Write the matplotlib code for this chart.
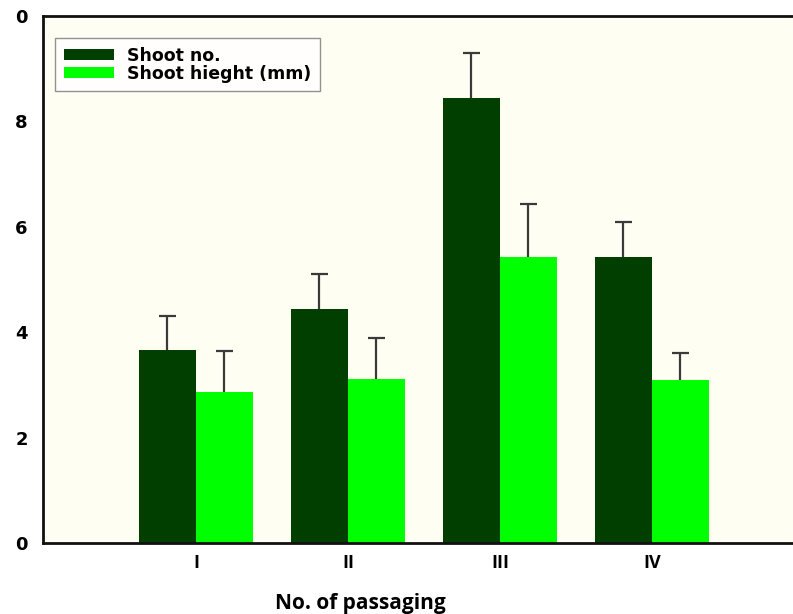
import matplotlib
matplotlib.use('Agg')
import matplotlib.pyplot as plt
import numpy as np

# data
passages = ['I', 'II', 'III', 'IV']
shoot_no = [3.66, 4.44, 8.44, 5.43]
shoot_no_err = [0.64, 0.66, 0.86, 0.67]
shoot_height = [2.86, 3.12, 5.43, 3.09]
shoot_height_err = [0.78, 0.77, 1.01, 0.51]
ytick_vals = [0, 2, 4, 6, 8, 10]
ytick_labels = ['0', '2', '4', '6', '8', '0']

W, H = 793, 614
step = 152  # px between groups
fig = plt.figure(figsize=(W / 100, H / 100), dpi=100)
# axes runs off the right edge, as in the original
ax = fig.add_axes([43 / W, 1 - 543 / H, 1.05, (543 - 16) / H])
ax.set_facecolor('#fffef2')

x = np.arange(len(passages))
w = 0.375
cap = 0.056


def bars_with_err(pos, vals, errs, color, label):
    ax.bar(pos, vals, w, color=color, label=label, zorder=2)
    tops = np.array(vals) + np.array(errs)
    ax.vlines(pos, vals, tops, color='#3a3a3a', lw=1.6, zorder=3)
    ax.hlines(tops, pos - cap, pos + cap, color='#3a3a3a', lw=1.6, zorder=3)


bars_with_err(x - w / 2, shoot_no, shoot_no_err, '#003f00', 'Shoot no.')
bars_with_err(x + w / 2, shoot_height, shoot_height_err, '#00ff00', 'Shoot hieght (mm)')

ax.set_ylim(0, 10)
x0 = -(196 - 43) / step
ax.set_xlim(x0, x0 + 1.05 * W / step)
ax.set_yticks(ytick_vals)
ax.set_yticklabels(ytick_labels, fontsize=13, fontweight='bold', family='DejaVu Sans')
ax.set_xticks(x)
ax.set_xticklabels(passages, fontsize=13, fontweight='bold', family='Open Sans')
ax.tick_params(axis='y', length=0, pad=11)
ax.tick_params(axis='x', length=0, pad=8)
for s in ax.spines.values():
    s.set_linewidth(2)
    s.set_color('#111111')

fig.text(360 / W, 1 - 603 / H, 'No. of passaging', ha='center', va='center',
         fontsize=15, fontweight='bold', family='Open Sans')

leg = ax.legend(loc='upper left', bbox_to_anchor=(12 / (1.05 * W), 1 - 22 / 527),
                prop={'family': 'DejaVu Sans', 'weight': 'bold', 'size': 12.5},
                handlelength=2.9, handleheight=0.55, handletextpad=0.75,
                labelspacing=0.0, fancybox=False, frameon=True,
                borderpad=0.5, borderaxespad=0)
leg.get_frame().set_edgecolor('#777777')
leg.get_frame().set_linewidth(1)

fig.savefig('out.png', dpi=100)
